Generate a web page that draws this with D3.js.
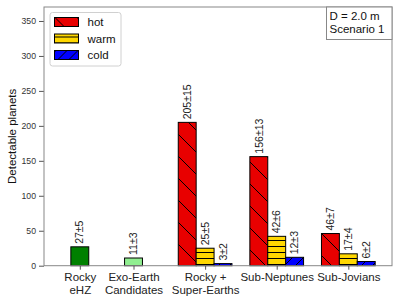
<!DOCTYPE html>
<html>
<head>
<meta charset="utf-8">
<script src="https://cdn.jsdelivr.net/npm/d3@7"></script>
<style>
  body { margin: 0; background: #fff; }
  svg { font-family: "Liberation Sans", Arial, sans-serif; }
</style>
</head>
<body>
<div id="chart"></div>
<script>
/* DATA */
const categories = ["Rocky eHZ", "Exo-Earth Candidates", "Rocky + Super-Earths", "Sub-Neptunes", "Sub-Jovians"];
const categoryLines = [["Rocky", "eHZ"], ["Exo-Earth", "Candidates"], ["Rocky +", "Super-Earths"], ["Sub-Neptunes"], ["Sub-Jovians"]];
const categorySlots = [0, 0.75, 1.75, 2.75, 3.75];

// single bars (rocky eHZ, exo-earth candidates)
const singleValues = [27, 11];
const singleErrors = [5, 3];

// temperature classes for the last three categories
const tempClasses = ["hot", "warm", "cold"];
const hotValues = [205, 156, 46];
const hotErrors = [15, 13, 7];
const warmValues = [25, 42, 17];
const warmErrors = [5, 6, 4];
const coldValues = [3, 12, 6];
const coldErrors = [2, 3, 2];

const yTicks = [0, 50, 100, 150, 200, 250, 300, 350];

/* SETUP */
const width = 399, height = 303,
  margin = { top: 7, right: 7, bottom: 37.3, left: 44 };
const barW = 0.25;

const svg = d3.select("#chart").append("svg")
  .attr("width", width)
  .attr("height", height);

const x = d3.scaleLinear()
  .domain([-0.5, 4.36])
  .range([margin.left, width - margin.right]);
const y = d3.scaleLinear()
  .domain([0, 370])
  .range([height - margin.bottom, margin.top]);

// hatch patterns
const defs = svg.append("defs");
function pattern(id, size, h, fill, d) {
  const p = defs.append("pattern")
    .attr("id", id)
    .attr("patternUnits", "userSpaceOnUse")
    .attr("width", size).attr("height", h);
  p.append("rect").attr("width", size).attr("height", h).attr("fill", fill);
  p.append("path").attr("d", d).attr("stroke", "#000").attr("stroke-width", 1).attr("fill", "none");
}
pattern("hatch-hot", 22, 22, "#e80000", "M-2,-2L24,24M-2,20L2,24M20,-2L24,2");
pattern("hatch-warm", 10, 6, "#ffd700", "M0,0.5H10");
pattern("hatch-cold", 11, 11, "#0000ff", "M-1,12L12,-1M-1,1L1,-1M10,12L12,10");

const fills = { hot: "url(#hatch-hot)", warm: "url(#hatch-warm)", cold: "url(#hatch-cold)" };

/* BUILD BAR TABLE */
const bars = [
  { xc: categorySlots[0], v: singleValues[0], e: singleErrors[0], fill: "#008000" },
  { xc: categorySlots[1], v: singleValues[1], e: singleErrors[1], fill: "#90ee90" }
];
const groupSeries = { hot: [hotValues, hotErrors], warm: [warmValues, warmErrors], cold: [coldValues, coldErrors] };
[2, 3, 4].forEach((ci, gi) => {
  tempClasses.forEach((t, ti) => {
    bars.push({
      xc: categorySlots[ci] + (ti - 1) * barW,
      v: groupSeries[t][0][gi],
      e: groupSeries[t][1][gi],
      fill: fills[t]
    });
  });
});

/* AXES */
const yAxis = d3.axisLeft(y).tickValues(yTicks).tickSize(5).tickPadding(3);
const yg = svg.append("g")
  .attr("transform", `translate(${margin.left},0)`)
  .call(yAxis);
yg.select(".domain").remove();
yg.selectAll(".tick line").attr("stroke", "#555");
yg.selectAll(".tick text").attr("fill", "#333").attr("font-size", 8.7);

const xAxis = d3.axisBottom(x).tickValues(categorySlots).tickSize(4).tickFormat("");
const xg = svg.append("g")
  .attr("transform", `translate(0,${height - margin.bottom})`)
  .call(xAxis);
xg.select(".domain").remove();
xg.selectAll(".tick line").attr("stroke", "#555");

xg.selectAll(".tick")
  .append("text")
  .attr("fill", "#222")
  .attr("font-size", 11.5)
  .attr("text-anchor", "middle")
  .selectAll("tspan")
  .data((d, i) => categoryLines[i])
  .join("tspan")
  .attr("x", 0)
  .attr("y", (d, i) => 15.5 + i * 12.5)
  .text(d => d);

/* BARS */
const bw = x(barW) - x(0);
svg.append("g").selectAll("rect")
  .data(bars)
  .join("rect")
  .attr("x", d => x(d.xc) - bw / 2)
  .attr("y", d => y(d.v))
  .attr("width", bw)
  .attr("height", d => y(0) - y(d.v))
  .attr("fill", d => d.fill)
  .attr("stroke", "#000")
  .attr("stroke-width", 1);

svg.append("g").selectAll("text")
  .data(bars)
  .join("text")
  .attr("transform", d => `translate(${x(d.xc)},${y(d.v) - 3}) rotate(-90)`)
  .attr("dy", "0.35em")
  .attr("font-size", 10.5)
  .attr("fill", "#222")
  .text(d => `${d.v}±${d.e}`);

/* FRAME */
svg.append("rect")
  .attr("x", margin.left)
  .attr("y", margin.top)
  .attr("width", width - margin.left - margin.right)
  .attr("height", height - margin.top - margin.bottom)
  .attr("fill", "none")
  .attr("stroke", "#888")
  .attr("stroke-width", 1);

/* Y LABEL */
svg.append("text")
  .attr("transform", `translate(16,${(margin.top + height - margin.bottom) / 2}) rotate(-90)`)
  .attr("text-anchor", "middle")
  .attr("font-size", 11.5)
  .attr("fill", "#111")
  .text("Detectable planets");

/* LEGEND */
const lg = svg.append("g").attr("transform", "translate(50,12.5)");
lg.append("rect")
  .attr("width", 71).attr("height", 53.5)
  .attr("rx", 2.5)
  .attr("fill", "#fff")
  .attr("stroke", "#d0d0d0");
tempClasses.forEach((t, i) => {
  lg.append("rect")
    .attr("x", 4.5).attr("y", 5 + i * 16.5)
    .attr("width", 24).attr("height", 9)
    .attr("fill", fills[t])
    .attr("stroke", "#000");
  lg.append("text")
    .attr("x", 37.5).attr("y", 13.5 + i * 16.5)
    .attr("font-size", 11.5)
    .attr("fill", "#111")
    .text(t);
});

/* TEXT BOX */
const tb = svg.append("g").attr("transform", `translate(326.5,${margin.top})`);
tb.append("rect")
  .attr("width", width - margin.right - 326.5).attr("height", 32.5)
  .attr("fill", "#fff")
  .attr("stroke", "#888");
tb.append("text").attr("x", 3).attr("y", 12.5).attr("font-size", 11.5).attr("fill", "#111").text("D = 2.0 m");
tb.append("text").attr("x", 3).attr("y", 26).attr("font-size", 11.5).attr("fill", "#111").text("Scenario 1");
</script>
</body>
</html>
